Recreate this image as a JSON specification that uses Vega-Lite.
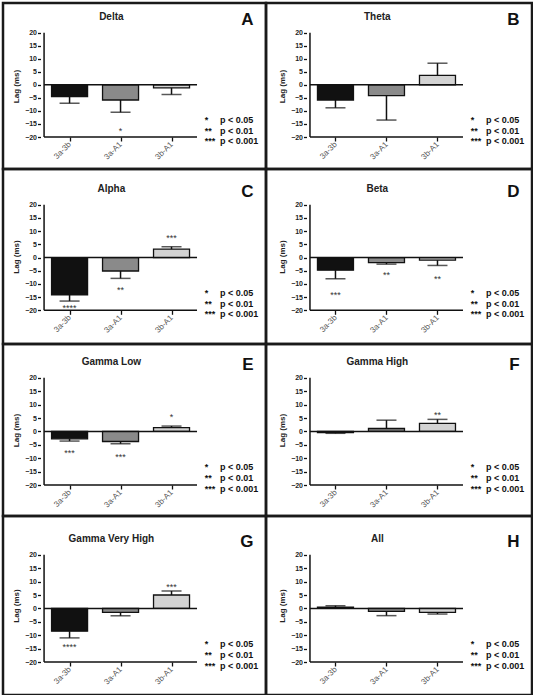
{
  "$schema": "https://vega.github.io/schema/vega-lite/v6.json",
  "background": "white",
  "padding": {"left": 1, "top": 1, "right": 0, "bottom": 0},
  "spacing": 0,
  "bounds": "flush",
  "columns": 2,
  "config": {
    "font": "Liberation Sans",
    "view": {"stroke": "#1a1a1a", "strokeWidth": 2.5},
    "concat": {"spacing": 0},
    "axis": {"domain": false, "grid": false, "tickColor": "#111", "tickWidth": 1.3, "labelOverlap": false, "labelFont": "Liberation Sans", "titleFont": "Liberation Sans"},
    "axisX": {"tickSize": 4, "labelAngle": -45, "labelAlign": "right", "labelBaseline": "middle", "labelFontSize": 8, "labelColor": "#555", "labelPadding": 2},
    "axisY": {"tickSize": 3, "labelFontSize": 7, "labelFontWeight": "bold", "labelColor": "#222", "labelPadding": 1, "titleFontSize": 8, "titleFontWeight": "bold", "titleColor": "#222", "titlePadding": 4}
  },
  "datasets": {
    "bars": [
      {"panel": "A", "pair": "3a-3b", "mean": -4.5, "tip": -7.05, "stars": "", "star_y": null},
      {"panel": "A", "pair": "3a-A1", "mean": -5.8, "tip": -10.5, "stars": "*", "star_y": -16.7},
      {"panel": "A", "pair": "3b-A1", "mean": -1.15, "tip": -3.7, "stars": "", "star_y": null},
      {"panel": "B", "pair": "3a-3b", "mean": -5.8, "tip": -8.8, "stars": "", "star_y": null},
      {"panel": "B", "pair": "3a-A1", "mean": -4.1, "tip": -13.5, "stars": "", "star_y": null},
      {"panel": "B", "pair": "3b-A1", "mean": 3.6, "tip": 8.3, "stars": "", "star_y": null},
      {"panel": "C", "pair": "3a-3b", "mean": -14.1, "tip": -16.5, "stars": "****", "star_y": -18.0},
      {"panel": "C", "pair": "3a-A1", "mean": -5.1, "tip": -7.9, "stars": "**", "star_y": -11.4},
      {"panel": "C", "pair": "3b-A1", "mean": 3.2, "tip": 4.1, "stars": "***", "star_y": 8.5},
      {"panel": "D", "pair": "3a-3b", "mean": -4.8, "tip": -8.05, "stars": "***", "star_y": -13.1},
      {"panel": "D", "pair": "3a-A1", "mean": -1.9, "tip": -2.5, "stars": "**", "star_y": -5.5},
      {"panel": "D", "pair": "3b-A1", "mean": -1.0, "tip": -3.0, "stars": "**", "star_y": -7.3},
      {"panel": "E", "pair": "3a-3b", "mean": -2.75, "tip": -3.6, "stars": "***", "star_y": -7.1},
      {"panel": "E", "pair": "3a-A1", "mean": -3.75, "tip": -4.6, "stars": "***", "star_y": -8.6},
      {"panel": "E", "pair": "3b-A1", "mean": 1.4, "tip": 2.0, "stars": "*", "star_y": 6.4},
      {"panel": "F", "pair": "3a-3b", "mean": -0.4, "tip": -0.7, "stars": "", "star_y": null},
      {"panel": "F", "pair": "3a-A1", "mean": 1.1, "tip": 4.2, "stars": "", "star_y": null},
      {"panel": "F", "pair": "3b-A1", "mean": 3.0, "tip": 4.5, "stars": "**", "star_y": 7.1},
      {"panel": "G", "pair": "3a-3b", "mean": -8.5, "tip": -11.0, "stars": "****", "star_y": -13.5},
      {"panel": "G", "pair": "3a-A1", "mean": -1.5, "tip": -2.75, "stars": "", "star_y": null},
      {"panel": "G", "pair": "3b-A1", "mean": 5.0, "tip": 6.5, "stars": "***", "star_y": 8.75},
      {"panel": "H", "pair": "3a-3b", "mean": 0.5, "tip": 1.0, "stars": "", "star_y": null},
      {"panel": "H", "pair": "3a-A1", "mean": -1.1, "tip": -2.7, "stars": "", "star_y": null},
      {"panel": "H", "pair": "3b-A1", "mean": -1.5, "tip": -2.1, "stars": "", "star_y": null}
    ]
  },
  "concat": [
    {
      "width": 263, "height": 166,
      "layer": [
        {
          "data": {"name": "bars"},
          "transform": [{"filter": "datum.panel == 'A'"}, {"calculate": "indexof(['3a-3b','3a-A1','3b-A1'], datum.pair) + 1", "as": "slot"}],
          "layer": [
            {"mark": {"type": "bar", "orient": "vertical", "width": 36, "stroke": "#111", "strokeWidth": 1.3},
             "encoding": {
               "x": {"field": "slot", "type": "quantitative", "scale": {"domain": [-0.2075, 4.755], "nice": false, "zero": false}, "axis": {"orient": "bottom", "offset": -32, "values": [1, 2, 3], "tickCount": 3, "labelOverlap": false, "labelExpr": "datum.value == 1 ? '3a-3b' : datum.value == 2 ? '3a-A1' : '3b-A1'", "title": null}},
               "y": {"field": "mean", "type": "quantitative", "scale": {"domain": [-32.27, 31.39], "nice": false, "zero": false}, "axis": {"orient": "left", "offset": -37.5, "values": [-20, -15, -10, -5, 0, 5, 10, 15, 20], "tickCount": 9, "labelOverlap": false, "title": "Lag (ms)"}},
               "y2": {"datum": 0},
               "fill": {"field": "pair", "type": "nominal", "scale": {"domain": ["3a-3b", "3a-A1", "3b-A1"], "range": ["#111111", "#8a8a8a", "#d3d3d3"]}, "legend": null}
             }},
            {"mark": {"type": "rule", "color": "#111", "strokeWidth": 1.5},
             "encoding": {"x": {"field": "slot", "type": "quantitative"}, "y": {"field": "mean", "type": "quantitative"}, "y2": {"field": "tip"}}},
            {"mark": {"type": "tick", "orient": "horizontal", "size": 20, "thickness": 1.5, "color": "#111"},
             "encoding": {"x": {"field": "slot", "type": "quantitative"}, "y": {"field": "tip", "type": "quantitative"}}},
            {"transform": [{"filter": "datum.stars != ''"}],
             "mark": {"type": "text", "fontSize": 9, "color": "#333", "baseline": "middle", "dy": 2.5},
             "encoding": {"x": {"field": "slot", "type": "quantitative"}, "y": {"field": "star_y", "type": "quantitative"}, "text": {"field": "stars"}}}
          ]
        },
        {
          "data": {"values": [{}]},
          "layer": [
            {"mark": {"type": "rule", "color": "#111", "strokeWidth": 1.5}, "encoding": {"x": {"datum": 0.5}, "x2": {"datum": 3.5}, "y": {"datum": 0}}},
            {"mark": {"type": "rule", "color": "#111", "strokeWidth": 1.5}, "encoding": {"x": {"datum": 0.5}, "y": {"datum": -20}, "y2": {"datum": 20}}},
            {"mark": {"type": "rule", "color": "#111", "strokeWidth": 1.5}, "encoding": {"x": {"datum": 0.5}, "x2": {"datum": 3.5}, "y": {"datum": -20}}},
            {"mark": {"type": "text", "text": ["*", "**", "***"], "align": "left", "baseline": "top", "lineHeight": 10.7, "fontSize": 9, "fontWeight": "bold", "color": "#111"}, "encoding": {"x": {"datum": 3.65}, "y": {"datum": -11.9}}},
            {"mark": {"type": "text", "text": ["p < 0.05", "p < 0.01", "p < 0.001"], "align": "left", "baseline": "top", "lineHeight": 10.7, "fontSize": 9, "fontWeight": "bold", "color": "#111"}, "encoding": {"x": {"datum": 3.95}, "y": {"datum": -11.9}}},
            {"mark": {"type": "text", "text": "Delta", "align": "center", "baseline": "alphabetic", "fontSize": 10, "fontWeight": "bold", "color": "#222"}, "encoding": {"x": {"datum": 1.82}, "y": {"datum": 24.8}}},
            {"mark": {"type": "text", "text": "A", "align": "right", "baseline": "alphabetic", "fontSize": 17, "fontWeight": "bold", "color": "#111"}, "encoding": {"x": {"datum": 4.61}, "y": {"datum": 22.8}}}
          ]
        }
      ]
    },
    {
      "width": 266, "height": 166,
      "layer": [
        {
          "data": {"name": "bars"},
          "transform": [{"filter": "datum.panel == 'B'"}, {"calculate": "indexof(['3a-3b','3a-A1','3b-A1'], datum.pair) + 1", "as": "slot"}],
          "layer": [
            {"mark": {"type": "bar", "orient": "vertical", "width": 36, "stroke": "#111", "strokeWidth": 1.3},
             "encoding": {
               "x": {"field": "slot", "type": "quantitative", "scale": {"domain": [-0.264, 4.755], "nice": false, "zero": false}, "axis": {"orient": "bottom", "offset": -32, "values": [1, 2, 3], "tickCount": 3, "labelOverlap": false, "labelExpr": "datum.value == 1 ? '3a-3b' : datum.value == 2 ? '3a-A1' : '3b-A1'", "title": null}},
               "y": {"field": "mean", "type": "quantitative", "scale": {"domain": [-32.27, 31.39], "nice": false, "zero": false}, "axis": {"orient": "left", "offset": -40.5, "values": [-20, -15, -10, -5, 0, 5, 10, 15, 20], "tickCount": 9, "labelOverlap": false, "title": "Lag (ms)"}},
               "y2": {"datum": 0},
               "fill": {"field": "pair", "type": "nominal", "scale": {"domain": ["3a-3b", "3a-A1", "3b-A1"], "range": ["#111111", "#8a8a8a", "#d3d3d3"]}, "legend": null}
             }},
            {"mark": {"type": "rule", "color": "#111", "strokeWidth": 1.5},
             "encoding": {"x": {"field": "slot", "type": "quantitative"}, "y": {"field": "mean", "type": "quantitative"}, "y2": {"field": "tip"}}},
            {"mark": {"type": "tick", "orient": "horizontal", "size": 20, "thickness": 1.5, "color": "#111"},
             "encoding": {"x": {"field": "slot", "type": "quantitative"}, "y": {"field": "tip", "type": "quantitative"}}},
            {"transform": [{"filter": "datum.stars != ''"}],
             "mark": {"type": "text", "fontSize": 9, "color": "#333", "baseline": "middle", "dy": 2.5},
             "encoding": {"x": {"field": "slot", "type": "quantitative"}, "y": {"field": "star_y", "type": "quantitative"}, "text": {"field": "stars"}}}
          ]
        },
        {
          "data": {"values": [{}]},
          "layer": [
            {"mark": {"type": "rule", "color": "#111", "strokeWidth": 1.5}, "encoding": {"x": {"datum": 0.5}, "x2": {"datum": 3.5}, "y": {"datum": 0}}},
            {"mark": {"type": "rule", "color": "#111", "strokeWidth": 1.5}, "encoding": {"x": {"datum": 0.5}, "y": {"datum": -20}, "y2": {"datum": 20}}},
            {"mark": {"type": "rule", "color": "#111", "strokeWidth": 1.5}, "encoding": {"x": {"datum": 0.5}, "x2": {"datum": 3.5}, "y": {"datum": -20}}},
            {"mark": {"type": "text", "text": ["*", "**", "***"], "align": "left", "baseline": "top", "lineHeight": 10.7, "fontSize": 9, "fontWeight": "bold", "color": "#111"}, "encoding": {"x": {"datum": 3.65}, "y": {"datum": -11.9}}},
            {"mark": {"type": "text", "text": ["p < 0.05", "p < 0.01", "p < 0.001"], "align": "left", "baseline": "top", "lineHeight": 10.7, "fontSize": 9, "fontWeight": "bold", "color": "#111"}, "encoding": {"x": {"datum": 3.95}, "y": {"datum": -11.9}}},
            {"mark": {"type": "text", "text": "Theta", "align": "center", "baseline": "alphabetic", "fontSize": 10, "fontWeight": "bold", "color": "#222"}, "encoding": {"x": {"datum": 1.82}, "y": {"datum": 24.8}}},
            {"mark": {"type": "text", "text": "B", "align": "right", "baseline": "alphabetic", "fontSize": 17, "fontWeight": "bold", "color": "#111"}, "encoding": {"x": {"datum": 4.61}, "y": {"datum": 22.8}}}
          ]
        }
      ]
    },
    {
      "width": 263, "height": 175,
      "layer": [
        {
          "data": {"name": "bars"},
          "transform": [{"filter": "datum.panel == 'C'"}, {"calculate": "indexof(['3a-3b','3a-A1','3b-A1'], datum.pair) + 1", "as": "slot"}],
          "layer": [
            {"mark": {"type": "bar", "orient": "vertical", "width": 36, "stroke": "#111", "strokeWidth": 1.3},
             "encoding": {
               "x": {"field": "slot", "type": "quantitative", "scale": {"domain": [-0.2075, 4.755], "nice": false, "zero": false}, "axis": {"orient": "bottom", "offset": -33.7, "values": [1, 2, 3], "tickCount": 3, "labelOverlap": false, "labelExpr": "datum.value == 1 ? '3a-3b' : datum.value == 2 ? '3a-A1' : '3b-A1'", "title": null}},
               "y": {"field": "mean", "type": "quantitative", "scale": {"domain": [-32.78, 33.57], "nice": false, "zero": false}, "axis": {"orient": "left", "offset": -37.5, "values": [-20, -15, -10, -5, 0, 5, 10, 15, 20], "tickCount": 9, "labelOverlap": false, "title": "Lag (ms)"}},
               "y2": {"datum": 0},
               "fill": {"field": "pair", "type": "nominal", "scale": {"domain": ["3a-3b", "3a-A1", "3b-A1"], "range": ["#111111", "#8a8a8a", "#d3d3d3"]}, "legend": null}
             }},
            {"mark": {"type": "rule", "color": "#111", "strokeWidth": 1.5},
             "encoding": {"x": {"field": "slot", "type": "quantitative"}, "y": {"field": "mean", "type": "quantitative"}, "y2": {"field": "tip"}}},
            {"mark": {"type": "tick", "orient": "horizontal", "size": 20, "thickness": 1.5, "color": "#111"},
             "encoding": {"x": {"field": "slot", "type": "quantitative"}, "y": {"field": "tip", "type": "quantitative"}}},
            {"transform": [{"filter": "datum.stars != ''"}],
             "mark": {"type": "text", "fontSize": 9, "color": "#333", "baseline": "middle", "dy": 2.5},
             "encoding": {"x": {"field": "slot", "type": "quantitative"}, "y": {"field": "star_y", "type": "quantitative"}, "text": {"field": "stars"}}}
          ]
        },
        {
          "data": {"values": [{}]},
          "layer": [
            {"mark": {"type": "rule", "color": "#111", "strokeWidth": 1.5}, "encoding": {"x": {"datum": 0.5}, "x2": {"datum": 3.5}, "y": {"datum": 0}}},
            {"mark": {"type": "rule", "color": "#111", "strokeWidth": 1.5}, "encoding": {"x": {"datum": 0.5}, "y": {"datum": -20}, "y2": {"datum": 20}}},
            {"mark": {"type": "rule", "color": "#111", "strokeWidth": 1.5}, "encoding": {"x": {"datum": 0.5}, "x2": {"datum": 3.5}, "y": {"datum": -20}}},
            {"mark": {"type": "text", "text": ["*", "**", "***"], "align": "left", "baseline": "top", "lineHeight": 10.7, "fontSize": 9, "fontWeight": "bold", "color": "#111"}, "encoding": {"x": {"datum": 3.65}, "y": {"datum": -11.9}}},
            {"mark": {"type": "text", "text": ["p < 0.05", "p < 0.01", "p < 0.001"], "align": "left", "baseline": "top", "lineHeight": 10.7, "fontSize": 9, "fontWeight": "bold", "color": "#111"}, "encoding": {"x": {"datum": 3.95}, "y": {"datum": -11.9}}},
            {"mark": {"type": "text", "text": "Alpha", "align": "center", "baseline": "alphabetic", "fontSize": 10, "fontWeight": "bold", "color": "#222"}, "encoding": {"x": {"datum": 1.82}, "y": {"datum": 24.8}}},
            {"mark": {"type": "text", "text": "C", "align": "right", "baseline": "alphabetic", "fontSize": 17, "fontWeight": "bold", "color": "#111"}, "encoding": {"x": {"datum": 4.61}, "y": {"datum": 22.8}}}
          ]
        }
      ]
    },
    {
      "width": 266, "height": 175,
      "layer": [
        {
          "data": {"name": "bars"},
          "transform": [{"filter": "datum.panel == 'D'"}, {"calculate": "indexof(['3a-3b','3a-A1','3b-A1'], datum.pair) + 1", "as": "slot"}],
          "layer": [
            {"mark": {"type": "bar", "orient": "vertical", "width": 36, "stroke": "#111", "strokeWidth": 1.3},
             "encoding": {
               "x": {"field": "slot", "type": "quantitative", "scale": {"domain": [-0.264, 4.755], "nice": false, "zero": false}, "axis": {"orient": "bottom", "offset": -33.7, "values": [1, 2, 3], "tickCount": 3, "labelOverlap": false, "labelExpr": "datum.value == 1 ? '3a-3b' : datum.value == 2 ? '3a-A1' : '3b-A1'", "title": null}},
               "y": {"field": "mean", "type": "quantitative", "scale": {"domain": [-32.78, 33.57], "nice": false, "zero": false}, "axis": {"orient": "left", "offset": -40.5, "values": [-20, -15, -10, -5, 0, 5, 10, 15, 20], "tickCount": 9, "labelOverlap": false, "title": "Lag (ms)"}},
               "y2": {"datum": 0},
               "fill": {"field": "pair", "type": "nominal", "scale": {"domain": ["3a-3b", "3a-A1", "3b-A1"], "range": ["#111111", "#8a8a8a", "#d3d3d3"]}, "legend": null}
             }},
            {"mark": {"type": "rule", "color": "#111", "strokeWidth": 1.5},
             "encoding": {"x": {"field": "slot", "type": "quantitative"}, "y": {"field": "mean", "type": "quantitative"}, "y2": {"field": "tip"}}},
            {"mark": {"type": "tick", "orient": "horizontal", "size": 20, "thickness": 1.5, "color": "#111"},
             "encoding": {"x": {"field": "slot", "type": "quantitative"}, "y": {"field": "tip", "type": "quantitative"}}},
            {"transform": [{"filter": "datum.stars != ''"}],
             "mark": {"type": "text", "fontSize": 9, "color": "#333", "baseline": "middle", "dy": 2.5},
             "encoding": {"x": {"field": "slot", "type": "quantitative"}, "y": {"field": "star_y", "type": "quantitative"}, "text": {"field": "stars"}}}
          ]
        },
        {
          "data": {"values": [{}]},
          "layer": [
            {"mark": {"type": "rule", "color": "#111", "strokeWidth": 1.5}, "encoding": {"x": {"datum": 0.5}, "x2": {"datum": 3.5}, "y": {"datum": 0}}},
            {"mark": {"type": "rule", "color": "#111", "strokeWidth": 1.5}, "encoding": {"x": {"datum": 0.5}, "y": {"datum": -20}, "y2": {"datum": 20}}},
            {"mark": {"type": "rule", "color": "#111", "strokeWidth": 1.5}, "encoding": {"x": {"datum": 0.5}, "x2": {"datum": 3.5}, "y": {"datum": -20}}},
            {"mark": {"type": "text", "text": ["*", "**", "***"], "align": "left", "baseline": "top", "lineHeight": 10.7, "fontSize": 9, "fontWeight": "bold", "color": "#111"}, "encoding": {"x": {"datum": 3.65}, "y": {"datum": -11.9}}},
            {"mark": {"type": "text", "text": ["p < 0.05", "p < 0.01", "p < 0.001"], "align": "left", "baseline": "top", "lineHeight": 10.7, "fontSize": 9, "fontWeight": "bold", "color": "#111"}, "encoding": {"x": {"datum": 3.95}, "y": {"datum": -11.9}}},
            {"mark": {"type": "text", "text": "Beta", "align": "center", "baseline": "alphabetic", "fontSize": 10, "fontWeight": "bold", "color": "#222"}, "encoding": {"x": {"datum": 1.82}, "y": {"datum": 24.8}}},
            {"mark": {"type": "text", "text": "D", "align": "right", "baseline": "alphabetic", "fontSize": 17, "fontWeight": "bold", "color": "#111"}, "encoding": {"x": {"datum": 4.61}, "y": {"datum": 22.8}}}
          ]
        }
      ]
    },
    {
      "width": 263, "height": 172,
      "layer": [
        {
          "data": {"name": "bars"},
          "transform": [{"filter": "datum.panel == 'E'"}, {"calculate": "indexof(['3a-3b','3a-A1','3b-A1'], datum.pair) + 1", "as": "slot"}],
          "layer": [
            {"mark": {"type": "bar", "orient": "vertical", "width": 36, "stroke": "#111", "strokeWidth": 1.3},
             "encoding": {
               "x": {"field": "slot", "type": "quantitative", "scale": {"domain": [-0.2075, 4.755], "nice": false, "zero": false}, "axis": {"orient": "bottom", "offset": -31, "values": [1, 2, 3], "tickCount": 3, "labelOverlap": false, "labelExpr": "datum.value == 1 ? '3a-3b' : datum.value == 2 ? '3a-A1' : '3b-A1'", "title": null}},
               "y": {"field": "mean", "type": "quantitative", "scale": {"domain": [-31.57, 32.64], "nice": false, "zero": false}, "axis": {"orient": "left", "offset": -37.5, "values": [-20, -15, -10, -5, 0, 5, 10, 15, 20], "tickCount": 9, "labelOverlap": false, "title": "Lag (ms)"}},
               "y2": {"datum": 0},
               "fill": {"field": "pair", "type": "nominal", "scale": {"domain": ["3a-3b", "3a-A1", "3b-A1"], "range": ["#111111", "#8a8a8a", "#d3d3d3"]}, "legend": null}
             }},
            {"mark": {"type": "rule", "color": "#111", "strokeWidth": 1.5},
             "encoding": {"x": {"field": "slot", "type": "quantitative"}, "y": {"field": "mean", "type": "quantitative"}, "y2": {"field": "tip"}}},
            {"mark": {"type": "tick", "orient": "horizontal", "size": 20, "thickness": 1.5, "color": "#111"},
             "encoding": {"x": {"field": "slot", "type": "quantitative"}, "y": {"field": "tip", "type": "quantitative"}}},
            {"transform": [{"filter": "datum.stars != ''"}],
             "mark": {"type": "text", "fontSize": 9, "color": "#333", "baseline": "middle", "dy": 2.5},
             "encoding": {"x": {"field": "slot", "type": "quantitative"}, "y": {"field": "star_y", "type": "quantitative"}, "text": {"field": "stars"}}}
          ]
        },
        {
          "data": {"values": [{}]},
          "layer": [
            {"mark": {"type": "rule", "color": "#111", "strokeWidth": 1.5}, "encoding": {"x": {"datum": 0.5}, "x2": {"datum": 3.5}, "y": {"datum": 0}}},
            {"mark": {"type": "rule", "color": "#111", "strokeWidth": 1.5}, "encoding": {"x": {"datum": 0.5}, "y": {"datum": -20}, "y2": {"datum": 20}}},
            {"mark": {"type": "rule", "color": "#111", "strokeWidth": 1.5}, "encoding": {"x": {"datum": 0.5}, "x2": {"datum": 3.5}, "y": {"datum": -20}}},
            {"mark": {"type": "text", "text": ["*", "**", "***"], "align": "left", "baseline": "top", "lineHeight": 10.7, "fontSize": 9, "fontWeight": "bold", "color": "#111"}, "encoding": {"x": {"datum": 3.65}, "y": {"datum": -11.9}}},
            {"mark": {"type": "text", "text": ["p < 0.05", "p < 0.01", "p < 0.001"], "align": "left", "baseline": "top", "lineHeight": 10.7, "fontSize": 9, "fontWeight": "bold", "color": "#111"}, "encoding": {"x": {"datum": 3.95}, "y": {"datum": -11.9}}},
            {"mark": {"type": "text", "text": "Gamma Low", "align": "center", "baseline": "alphabetic", "fontSize": 10, "fontWeight": "bold", "color": "#222"}, "encoding": {"x": {"datum": 1.82}, "y": {"datum": 24.8}}},
            {"mark": {"type": "text", "text": "E", "align": "right", "baseline": "alphabetic", "fontSize": 17, "fontWeight": "bold", "color": "#111"}, "encoding": {"x": {"datum": 4.61}, "y": {"datum": 22.8}}}
          ]
        }
      ]
    },
    {
      "width": 266, "height": 172,
      "layer": [
        {
          "data": {"name": "bars"},
          "transform": [{"filter": "datum.panel == 'F'"}, {"calculate": "indexof(['3a-3b','3a-A1','3b-A1'], datum.pair) + 1", "as": "slot"}],
          "layer": [
            {"mark": {"type": "bar", "orient": "vertical", "width": 36, "stroke": "#111", "strokeWidth": 1.3},
             "encoding": {
               "x": {"field": "slot", "type": "quantitative", "scale": {"domain": [-0.264, 4.755], "nice": false, "zero": false}, "axis": {"orient": "bottom", "offset": -31, "values": [1, 2, 3], "tickCount": 3, "labelOverlap": false, "labelExpr": "datum.value == 1 ? '3a-3b' : datum.value == 2 ? '3a-A1' : '3b-A1'", "title": null}},
               "y": {"field": "mean", "type": "quantitative", "scale": {"domain": [-31.57, 32.64], "nice": false, "zero": false}, "axis": {"orient": "left", "offset": -40.5, "values": [-20, -15, -10, -5, 0, 5, 10, 15, 20], "tickCount": 9, "labelOverlap": false, "title": "Lag (ms)"}},
               "y2": {"datum": 0},
               "fill": {"field": "pair", "type": "nominal", "scale": {"domain": ["3a-3b", "3a-A1", "3b-A1"], "range": ["#111111", "#8a8a8a", "#d3d3d3"]}, "legend": null}
             }},
            {"mark": {"type": "rule", "color": "#111", "strokeWidth": 1.5},
             "encoding": {"x": {"field": "slot", "type": "quantitative"}, "y": {"field": "mean", "type": "quantitative"}, "y2": {"field": "tip"}}},
            {"mark": {"type": "tick", "orient": "horizontal", "size": 20, "thickness": 1.5, "color": "#111"},
             "encoding": {"x": {"field": "slot", "type": "quantitative"}, "y": {"field": "tip", "type": "quantitative"}}},
            {"transform": [{"filter": "datum.stars != ''"}],
             "mark": {"type": "text", "fontSize": 9, "color": "#333", "baseline": "middle", "dy": 2.5},
             "encoding": {"x": {"field": "slot", "type": "quantitative"}, "y": {"field": "star_y", "type": "quantitative"}, "text": {"field": "stars"}}}
          ]
        },
        {
          "data": {"values": [{}]},
          "layer": [
            {"mark": {"type": "rule", "color": "#111", "strokeWidth": 1.5}, "encoding": {"x": {"datum": 0.5}, "x2": {"datum": 3.5}, "y": {"datum": 0}}},
            {"mark": {"type": "rule", "color": "#111", "strokeWidth": 1.5}, "encoding": {"x": {"datum": 0.5}, "y": {"datum": -20}, "y2": {"datum": 20}}},
            {"mark": {"type": "rule", "color": "#111", "strokeWidth": 1.5}, "encoding": {"x": {"datum": 0.5}, "x2": {"datum": 3.5}, "y": {"datum": -20}}},
            {"mark": {"type": "text", "text": ["*", "**", "***"], "align": "left", "baseline": "top", "lineHeight": 10.7, "fontSize": 9, "fontWeight": "bold", "color": "#111"}, "encoding": {"x": {"datum": 3.65}, "y": {"datum": -11.9}}},
            {"mark": {"type": "text", "text": ["p < 0.05", "p < 0.01", "p < 0.001"], "align": "left", "baseline": "top", "lineHeight": 10.7, "fontSize": 9, "fontWeight": "bold", "color": "#111"}, "encoding": {"x": {"datum": 3.95}, "y": {"datum": -11.9}}},
            {"mark": {"type": "text", "text": "Gamma High", "align": "center", "baseline": "alphabetic", "fontSize": 10, "fontWeight": "bold", "color": "#222"}, "encoding": {"x": {"datum": 1.82}, "y": {"datum": 24.8}}},
            {"mark": {"type": "text", "text": "F", "align": "right", "baseline": "alphabetic", "fontSize": 17, "fontWeight": "bold", "color": "#111"}, "encoding": {"x": {"datum": 4.61}, "y": {"datum": 22.8}}}
          ]
        }
      ]
    },
    {
      "width": 263, "height": 179,
      "layer": [
        {
          "data": {"name": "bars"},
          "transform": [{"filter": "datum.panel == 'G'"}, {"calculate": "indexof(['3a-3b','3a-A1','3b-A1'], datum.pair) + 1", "as": "slot"}],
          "layer": [
            {"mark": {"type": "bar", "orient": "vertical", "width": 36, "stroke": "#111", "strokeWidth": 1.3},
             "encoding": {
               "x": {"field": "slot", "type": "quantitative", "scale": {"domain": [-0.2075, 4.755], "nice": false, "zero": false}, "axis": {"orient": "bottom", "offset": -33, "values": [1, 2, 3], "tickCount": 3, "labelOverlap": false, "labelExpr": "datum.value == 1 ? '3a-3b' : datum.value == 2 ? '3a-A1' : '3b-A1'", "title": null}},
               "y": {"field": "mean", "type": "quantitative", "scale": {"domain": [-32.31, 34.48], "nice": false, "zero": false}, "axis": {"orient": "left", "offset": -37.5, "values": [-20, -15, -10, -5, 0, 5, 10, 15, 20], "tickCount": 9, "labelOverlap": false, "title": "Lag (ms)"}},
               "y2": {"datum": 0},
               "fill": {"field": "pair", "type": "nominal", "scale": {"domain": ["3a-3b", "3a-A1", "3b-A1"], "range": ["#111111", "#8a8a8a", "#d3d3d3"]}, "legend": null}
             }},
            {"mark": {"type": "rule", "color": "#111", "strokeWidth": 1.5},
             "encoding": {"x": {"field": "slot", "type": "quantitative"}, "y": {"field": "mean", "type": "quantitative"}, "y2": {"field": "tip"}}},
            {"mark": {"type": "tick", "orient": "horizontal", "size": 20, "thickness": 1.5, "color": "#111"},
             "encoding": {"x": {"field": "slot", "type": "quantitative"}, "y": {"field": "tip", "type": "quantitative"}}},
            {"transform": [{"filter": "datum.stars != ''"}],
             "mark": {"type": "text", "fontSize": 9, "color": "#333", "baseline": "middle", "dy": 2.5},
             "encoding": {"x": {"field": "slot", "type": "quantitative"}, "y": {"field": "star_y", "type": "quantitative"}, "text": {"field": "stars"}}}
          ]
        },
        {
          "data": {"values": [{}]},
          "layer": [
            {"mark": {"type": "rule", "color": "#111", "strokeWidth": 1.5}, "encoding": {"x": {"datum": 0.5}, "x2": {"datum": 3.5}, "y": {"datum": 0}}},
            {"mark": {"type": "rule", "color": "#111", "strokeWidth": 1.5}, "encoding": {"x": {"datum": 0.5}, "y": {"datum": -20}, "y2": {"datum": 20}}},
            {"mark": {"type": "rule", "color": "#111", "strokeWidth": 1.5}, "encoding": {"x": {"datum": 0.5}, "x2": {"datum": 3.5}, "y": {"datum": -20}}},
            {"mark": {"type": "text", "text": ["*", "**", "***"], "align": "left", "baseline": "top", "lineHeight": 10.7, "fontSize": 9, "fontWeight": "bold", "color": "#111"}, "encoding": {"x": {"datum": 3.65}, "y": {"datum": -11.9}}},
            {"mark": {"type": "text", "text": ["p < 0.05", "p < 0.01", "p < 0.001"], "align": "left", "baseline": "top", "lineHeight": 10.7, "fontSize": 9, "fontWeight": "bold", "color": "#111"}, "encoding": {"x": {"datum": 3.95}, "y": {"datum": -11.9}}},
            {"mark": {"type": "text", "text": "Gamma Very High", "align": "center", "baseline": "alphabetic", "fontSize": 10, "fontWeight": "bold", "color": "#222"}, "encoding": {"x": {"datum": 1.82}, "y": {"datum": 24.8}}},
            {"mark": {"type": "text", "text": "G", "align": "right", "baseline": "alphabetic", "fontSize": 17, "fontWeight": "bold", "color": "#111"}, "encoding": {"x": {"datum": 4.61}, "y": {"datum": 22.8}}}
          ]
        }
      ]
    },
    {
      "width": 266, "height": 179,
      "layer": [
        {
          "data": {"name": "bars"},
          "transform": [{"filter": "datum.panel == 'H'"}, {"calculate": "indexof(['3a-3b','3a-A1','3b-A1'], datum.pair) + 1", "as": "slot"}],
          "layer": [
            {"mark": {"type": "bar", "orient": "vertical", "width": 36, "stroke": "#111", "strokeWidth": 1.3},
             "encoding": {
               "x": {"field": "slot", "type": "quantitative", "scale": {"domain": [-0.264, 4.755], "nice": false, "zero": false}, "axis": {"orient": "bottom", "offset": -33, "values": [1, 2, 3], "tickCount": 3, "labelOverlap": false, "labelExpr": "datum.value == 1 ? '3a-3b' : datum.value == 2 ? '3a-A1' : '3b-A1'", "title": null}},
               "y": {"field": "mean", "type": "quantitative", "scale": {"domain": [-32.31, 34.48], "nice": false, "zero": false}, "axis": {"orient": "left", "offset": -40.5, "values": [-20, -15, -10, -5, 0, 5, 10, 15, 20], "tickCount": 9, "labelOverlap": false, "title": "Lag (ms)"}},
               "y2": {"datum": 0},
               "fill": {"field": "pair", "type": "nominal", "scale": {"domain": ["3a-3b", "3a-A1", "3b-A1"], "range": ["#111111", "#8a8a8a", "#d3d3d3"]}, "legend": null}
             }},
            {"mark": {"type": "rule", "color": "#111", "strokeWidth": 1.5},
             "encoding": {"x": {"field": "slot", "type": "quantitative"}, "y": {"field": "mean", "type": "quantitative"}, "y2": {"field": "tip"}}},
            {"mark": {"type": "tick", "orient": "horizontal", "size": 20, "thickness": 1.5, "color": "#111"},
             "encoding": {"x": {"field": "slot", "type": "quantitative"}, "y": {"field": "tip", "type": "quantitative"}}},
            {"transform": [{"filter": "datum.stars != ''"}],
             "mark": {"type": "text", "fontSize": 9, "color": "#333", "baseline": "middle", "dy": 2.5},
             "encoding": {"x": {"field": "slot", "type": "quantitative"}, "y": {"field": "star_y", "type": "quantitative"}, "text": {"field": "stars"}}}
          ]
        },
        {
          "data": {"values": [{}]},
          "layer": [
            {"mark": {"type": "rule", "color": "#111", "strokeWidth": 1.5}, "encoding": {"x": {"datum": 0.5}, "x2": {"datum": 3.5}, "y": {"datum": 0}}},
            {"mark": {"type": "rule", "color": "#111", "strokeWidth": 1.5}, "encoding": {"x": {"datum": 0.5}, "y": {"datum": -20}, "y2": {"datum": 20}}},
            {"mark": {"type": "rule", "color": "#111", "strokeWidth": 1.5}, "encoding": {"x": {"datum": 0.5}, "x2": {"datum": 3.5}, "y": {"datum": -20}}},
            {"mark": {"type": "text", "text": ["*", "**", "***"], "align": "left", "baseline": "top", "lineHeight": 10.7, "fontSize": 9, "fontWeight": "bold", "color": "#111"}, "encoding": {"x": {"datum": 3.65}, "y": {"datum": -11.9}}},
            {"mark": {"type": "text", "text": ["p < 0.05", "p < 0.01", "p < 0.001"], "align": "left", "baseline": "top", "lineHeight": 10.7, "fontSize": 9, "fontWeight": "bold", "color": "#111"}, "encoding": {"x": {"datum": 3.95}, "y": {"datum": -11.9}}},
            {"mark": {"type": "text", "text": "All", "align": "center", "baseline": "alphabetic", "fontSize": 10, "fontWeight": "bold", "color": "#222"}, "encoding": {"x": {"datum": 1.82}, "y": {"datum": 24.8}}},
            {"mark": {"type": "text", "text": "H", "align": "right", "baseline": "alphabetic", "fontSize": 17, "fontWeight": "bold", "color": "#111"}, "encoding": {"x": {"datum": 4.61}, "y": {"datum": 22.8}}}
          ]
        }
      ]
    }
  ]
}
